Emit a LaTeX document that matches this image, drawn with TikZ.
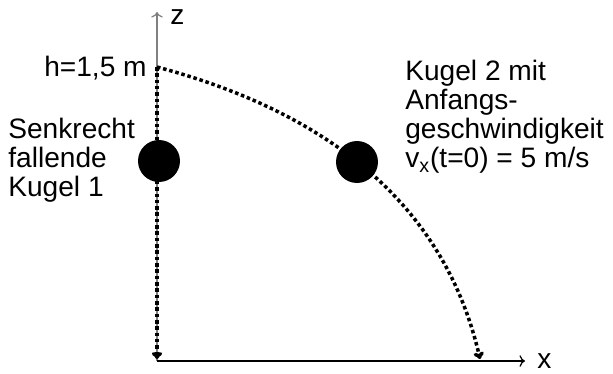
\documentclass[tikz,border=0pt]{standalone}
\usepackage{fontspec}
\setmainfont{Liberation Sans}
\usetikzlibrary{arrows.meta,positioning}
\begin{document}
\begin{tikzpicture}[x=0.02cm,y=-0.02cm,>=To]
\tikzstyle{plaintext}=[font=\fontsize{16}{16.5}\selectfont,align=left,inner sep=0pt]
\tikzstyle{kugel}=[circle,fill=black,minimum size=0.84cm,inner sep=0pt]
\tikzstyle{bahn}=[line width=2pt,dash pattern=on 2pt off 1.6pt,-{To[length=4pt,width=6pt]}]
\tikzstyle{achse}=[->,line width=0.7pt]
\useasboundingbox (0,0) rectangle (613,373);
% Achsen
\coordinate (O) at (157,361);
\coordinate (ztip) at (157,12);
\coordinate (xtip) at (525,361);
\draw[achse,gray] (O) -- (ztip);
\draw[achse] (O) -- (xtip);
\node[plaintext,anchor=west] (zlabel) at (170,17) {z};
\node[plaintext,anchor=west] (xlabel) at (537,361) {x};
% Bahnen
\coordinate (h) at (157,67);
\coordinate (boden1) at (157,359);
\coordinate (boden2) at (480,359);
\draw[bahn] (h) -- (boden1);
\draw[bahn] (h) .. controls (300,105) and (440,185) .. (boden2);
% Kugeln
\node[kugel] (k1) at (159,161) {};
\node[kugel] (k2) at (357,162) {};
% Texte
\node[plaintext,anchor=east] (hlabel) at (147,68) {h=1,5 m};
\node[plaintext,anchor=west] (text1) at (8,160) {Senkrecht\\fallende\\Kugel 1};
\node[plaintext,anchor=west] (text2) at (405,117) {Kugel 2 mit\\Anfangs-\\geschwindigkeit\\v\textsubscript{x}(t=0) = 5 m/s};
\end{tikzpicture}
\end{document}
